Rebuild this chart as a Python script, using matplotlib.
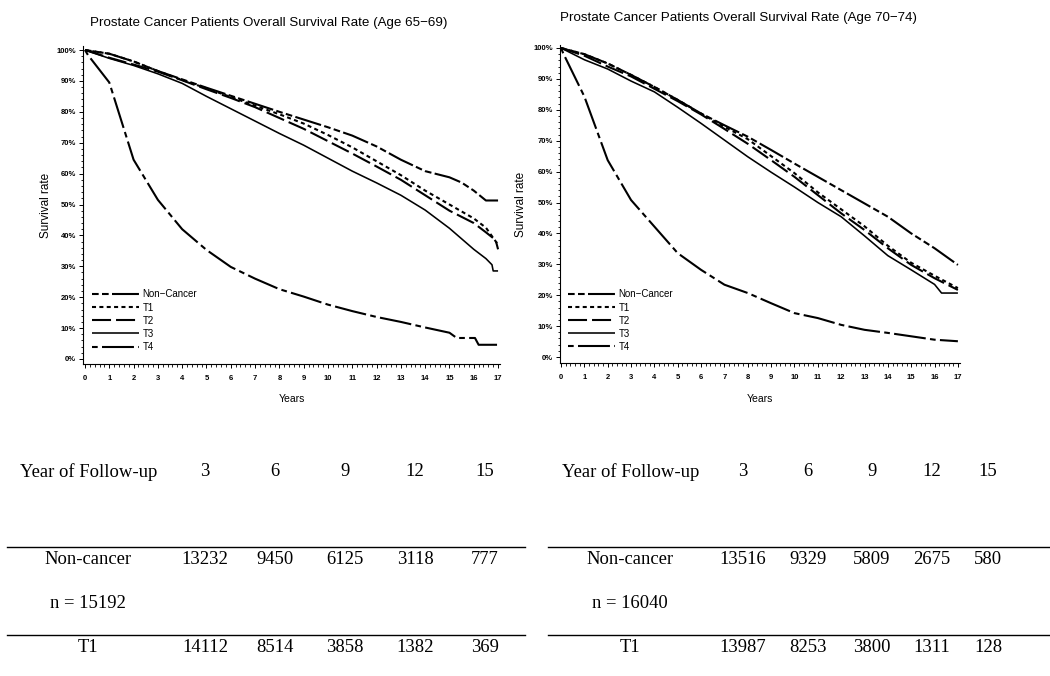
import matplotlib
matplotlib.use("Agg")
import matplotlib.pyplot as plt
from matplotlib.lines import Line2D
from matplotlib.ticker import MultipleLocator, FuncFormatter

plt.rcParams["font.family"] = ["Liberation Sans", "DejaVu Sans"]
plt.rcParams["lines.scale_dashes"] = False

# ---- survival curves (years, percent) ----
# Age 65-69
yrs_nc_a = [0, 1, 2, 3, 4, 5, 6, 7, 8, 9, 10, 11, 12, 13, 14, 15, 15.5, 16, 16.5, 17]
nc_a = [100, 98.8, 96.3, 93.2, 90.5, 87.8, 85.2, 82.6, 80, 77.5, 75, 72.3, 68.8, 64.5, 60.8, 58.8, 57.1, 54.5, 51.3, 51.3]
yrs_t1_a = [0, 1, 2, 3, 4, 5, 6, 7, 8, 9, 10, 11, 12, 13, 14, 15, 16, 16.5, 17]
t1_a = [100, 98.8, 96.3, 93.2, 90.3, 87.6, 84.8, 82, 79.2, 76.2, 72.5, 68.5, 64, 59.5, 54.5, 50, 45.5, 42.5, 37]
yrs_t2_a = [0, 1, 2, 3, 4, 5, 6, 7, 8, 9, 10, 11, 12, 13, 14, 15, 16, 16.5, 16.9, 17]
t2_a = [100, 97.5, 95.3, 93, 90.2, 87.3, 84.5, 81.5, 78, 74.5, 70.5, 66.5, 62.3, 58, 53, 48, 44, 41, 38.5, 35.5]
yrs_t3_a = [0, 1, 2, 3, 4, 5, 6, 7, 8, 9, 10, 11, 12, 13, 14, 15, 16, 16.5, 16.75, 16.8, 17]
t3_a = [100, 97.3, 95, 92.3, 89.2, 85, 81, 77, 73, 69.2, 65, 60.8, 57, 53, 48.2, 42.3, 35.5, 32.5, 30.5, 28.5, 28.5]
yrs_t4_a = [0, 0.12, 1, 2, 3, 4, 5, 6, 7, 8, 9, 10, 11, 12, 13, 14, 15, 15.3, 16.05, 16.2, 17]
t4_a = [100, 98.4, 89.5, 64.5, 51.5, 42, 35.3, 29.8, 26, 22.6, 20.2, 17.6, 15.5, 13.6, 12, 10.2, 8.5, 6.8, 6.8, 4.6, 4.6]

# Age 70-74
yrs_b = [0, 1, 2, 3, 4, 5, 6, 7, 8, 9, 10, 11, 12, 13, 14, 15, 16, 17]
nc_b = [100, 98, 95, 91.3, 87.4, 83.2, 78.8, 75, 71.3, 67, 62.6, 58.3, 54, 49.7, 45.4, 40, 35.2, 29.8]
t1_b = [100, 98, 95, 91.3, 87.4, 83.2, 78.8, 74.5, 70.5, 65, 59.5, 53.3, 47.8, 42.3, 36, 30.5, 26.3, 22.3]
t2_b = [100, 97.5, 94, 90.8, 86.8, 82.8, 78.5, 73.8, 69, 63.7, 58.3, 52.4, 46.5, 41.1, 35.2, 29.8, 25.5, 21.7]
yrs_t3_b = [0, 1, 2, 3, 4, 5, 6, 7, 8, 9, 10, 11, 12, 13, 14, 15, 16, 16.3, 17]
t3_b = [100, 96.2, 93.2, 89.3, 85.8, 80.8, 75.6, 70.2, 64.8, 59.8, 55, 50, 45.4, 39.2, 32.8, 28.2, 23.5, 20.7, 20.7]
yrs_t4_b = [0, 0.1, 1, 2, 3, 4, 5, 6, 7, 8, 9, 10, 11, 12, 13, 14, 15, 16, 17]
t4_b = [100, 98.2, 84.3, 63.7, 50.8, 42.2, 33.6, 28.2, 23.4, 20.7, 17.4, 14.2, 12.6, 10.4, 8.8, 7.8, 6.7, 5.6, 5.1]

labels = ["Non\u2212Cancer", "T1", "T2", "T3", "T4"]

# ---- at-risk table ----
follow_up = ["3", "6", "9", "12", "15"]
noncancer_a = ["13232", "9450", "6125", "3118", "777"]
t1row_a = ["14112", "8514", "3858", "1382", "369"]
noncancer_b = ["13516", "9329", "5809", "2675", "580"]
t1row_b = ["13987", "8253", "3800", "1311", "128"]
n_a = "n = 15192"
n_b = "n = 16040"

# line styles (points)
STYLES = [
    dict(lw=1.5, dashes=(4.8, 2.4, 4.8, 2.4, 19.4, 2.4)),
    dict(lw=1.5, dashes=(2.9, 2.4)),
    dict(lw=1.5, dashes=(13.7, 3.6)),
    dict(lw=1.15, ls="-"),
    dict(lw=1.5, dashes=(4.1, 3.1, 23, 3.1)),
]

W, H = 1050, 676
fig = plt.figure(figsize=(W / 100, H / 100), dpi=100)
fig.patch.set_facecolor("white")


def px_axes(x0, x1, y_top, y_bot):
    return fig.add_axes([x0 / W, 1 - y_bot / H, (x1 - x0) / W, (y_bot - y_top) / H])


def style_axes(ax, ylab_x, xlab_y):
    for s in ["top", "right"]:
        ax.spines[s].set_visible(False)
    for s in ["left", "bottom"]:
        ax.spines[s].set_linewidth(0.8)
    ax.xaxis.set_major_locator(MultipleLocator(1))
    ax.xaxis.set_minor_locator(MultipleLocator(0.2))
    ax.yaxis.set_major_locator(MultipleLocator(10))
    ax.yaxis.set_minor_locator(MultipleLocator(2))
    ax.yaxis.set_major_formatter(FuncFormatter(lambda v, p: f"{v:.0f}%"))
    ax.tick_params(which="major", direction="out", length=3, width=0.7, labelsize=5.5)
    ax.tick_params(which="minor", direction="out", length=1.8, width=0.6)
    ax.tick_params(axis="x", pad=5)
    ax.tick_params(axis="y", pad=2)
    for t in ax.get_xticklabels() + ax.get_yticklabels():
        t.set_fontweight("bold")
    ax.set_ylabel("Survival rate", fontsize=8.5)
    ax.set_xlabel("Years", fontsize=7.5)
    ax.yaxis.set_label_coords(ylab_x, 0.5)
    ax.xaxis.set_label_coords(0.5, xlab_y)


panels = [
    dict(box=(83, 500, 46, 364), xlim=(-0.082, 17.08), ylim=(-1.62, 101.3),
         title="Prostate Cancer Patients Overall Survival Rate (Age 65\u221269)", tx=269, ty=23,
         curves=[(yrs_nc_a, nc_a), (yrs_t1_a, t1_a), (yrs_t2_a, t2_a), (yrs_t3_a, t3_a), (yrs_t4_a, t4_a)],
         leg=(0.0216, 0.038), ylab_x=-0.074, xlab_y=-0.094),
    dict(box=(560, 960, 45, 363), xlim=(-0.043, 17.09), ylim=(-1.94, 100.97),
         title="Prostate Cancer Patients Overall Survival Rate (Age 70\u221274)", tx=739, ty=18,
         curves=[(yrs_b, nc_b), (yrs_b, t1_b), (yrs_b, t2_b), (yrs_t3_b, t3_b), (yrs_t4_b, t4_b)],
         leg=(0.02, 0.035), ylab_x=-0.0825, xlab_y=-0.097),
]

for p in panels:
    ax = px_axes(*p["box"])
    handles = []
    for (x, y), st, lab in zip(p["curves"], STYLES, labels):
        h, = ax.plot(x, y, color="black", label=lab, solid_capstyle="butt",
                     dash_capstyle="butt", **st)
        handles.append(h)
    ax.set_xlim(*p["xlim"])
    ax.set_ylim(*p["ylim"])
    style_axes(ax, p["ylab_x"], p["xlab_y"])
    ax.legend(handles=handles, loc="lower left", bbox_to_anchor=p["leg"], frameon=False,
              fontsize=7, handlelength=4.8, handletextpad=0.4, labelspacing=0.32,
              borderpad=0, borderaxespad=0)
    fig.text(p["tx"] / W, 1 - p["ty"] / H, p["title"], ha="center", va="center", fontsize=9.6)

# ---- table text ----
SERIF = ["Liberation Serif", "DejaVu Serif"]
tables = [
    dict(x0=7, x1=525, head_x=20, col_x=[205, 275, 345, 415, 485], lab_x=88,
         nc=noncancer_a, t1=t1row_a, n=n_a),
    dict(x0=548, x1=1050, head_x=562, col_x=[743, 808, 872, 932, 988], lab_x=630,
         nc=noncancer_b, t1=t1row_b, n=n_b),
]
fs = 13.4
for t in tables:
    fig.text(t["head_x"] / W, 1 - 472 / H, "Year of Follow-up", family=SERIF, fontsize=fs,
             ha="left", va="center")
    for cx, yv, a, b in zip(t["col_x"], follow_up, t["nc"], t["t1"]):
        fig.text(cx / W, 1 - 472 / H, yv, family=SERIF, fontsize=fs, ha="center", va="center")
        fig.text(cx / W, 1 - 559 / H, a, family=SERIF, fontsize=fs, ha="center", va="center")
        fig.text(cx / W, 1 - 647 / H, b, family=SERIF, fontsize=fs, ha="center", va="center")
    fig.text(t["lab_x"] / W, 1 - 559 / H, "Non-cancer", family=SERIF, fontsize=fs,
             ha="center", va="center")
    fig.text(t["lab_x"] / W, 1 - 603 / H, t["n"], family=SERIF, fontsize=fs,
             ha="center", va="center")
    fig.text(t["lab_x"] / W, 1 - 647 / H, "T1", family=SERIF, fontsize=fs,
             ha="center", va="center")
    for yy in (547, 635):
        fig.add_artist(Line2D([t["x0"] / W, t["x1"] / W], [1 - yy / H, 1 - yy / H],
                              color="black", lw=1.0))

fig.savefig("out.png", dpi=100, facecolor="white")
